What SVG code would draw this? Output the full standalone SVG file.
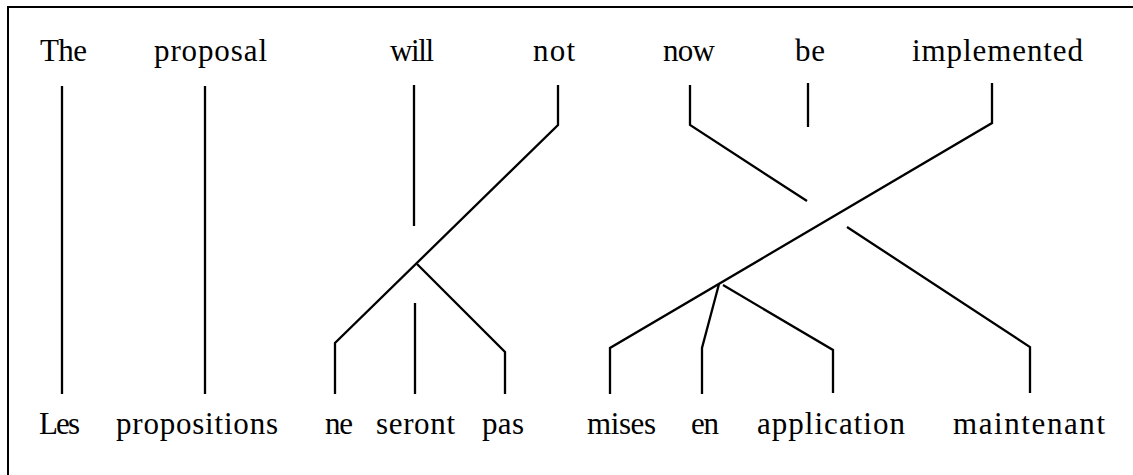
<svg xmlns="http://www.w3.org/2000/svg" width="1133" height="475" viewBox="0 0 1133 475">
<style>
text{font-family:"Liberation Serif","Times New Roman",serif;font-size:31px;fill:#000}
.c{fill:none;stroke:#000;stroke-width:2.3;stroke-linejoin:miter;stroke-linecap:butt}
.f{fill:none;stroke:#000;stroke-width:2}
</style>
<rect width="1133" height="475" fill="#fff"/>
<g id="frame"><path class="f" d="M8,475 V7 H1133"/></g>
<g id="en-words">
<g id="w-The"><text x="40" y="61" textLength="47" lengthAdjust="spacing">The</text></g>
<g id="w-proposal"><text x="154" y="61" textLength="113" lengthAdjust="spacing">proposal</text></g>
<g id="w-will"><text x="390" y="61" textLength="44" lengthAdjust="spacing">will</text></g>
<g id="w-not"><text x="533" y="61" textLength="42" lengthAdjust="spacing">not</text></g>
<g id="w-now"><text x="663" y="61" textLength="52" lengthAdjust="spacing">now</text></g>
<g id="w-be"><text x="795" y="61" textLength="30" lengthAdjust="spacing">be</text></g>
<g id="w-implemented"><text x="912" y="61" textLength="171" lengthAdjust="spacing">implemented</text></g>
</g>
<g id="fr-words">
<g id="w-Les"><text x="39" y="434" textLength="41" lengthAdjust="spacing">Les</text></g>
<g id="w-propositions"><text x="116" y="434" textLength="162" lengthAdjust="spacing">propositions</text></g>
<g id="w-ne"><text x="325" y="434" textLength="28" lengthAdjust="spacing">ne</text></g>
<g id="w-seront"><text x="376" y="434" textLength="79" lengthAdjust="spacing">seront</text></g>
<g id="w-pas"><text x="482" y="434" textLength="42" lengthAdjust="spacing">pas</text></g>
<g id="w-mises"><text x="587" y="434" textLength="69" lengthAdjust="spacing">mises</text></g>
<g id="w-en"><text x="691" y="434" textLength="28" lengthAdjust="spacing">en</text></g>
<g id="w-application"><text x="757" y="434" textLength="148" lengthAdjust="spacing">application</text></g>
<g id="w-maintenant"><text x="953" y="434" textLength="152" lengthAdjust="spacing">maintenant</text></g>
</g>
<g id="connectors">
<path class="c" d="M62,86 V394"/>
<path class="c" d="M205,86 V394"/>
<path class="c" d="M414,85 V226"/>
<path class="c" d="M415,303 V394"/>
<path class="c" d="M558,85 V125 L335,343 V394"/>
<path class="c" d="M417,264 L505,352 V394"/>
<path class="c" d="M690,85 V125 L807,201"/>
<path class="c" d="M847,227 L1030,347 V393"/>
<path class="c" d="M808,83 V127"/>
<path class="c" d="M992,83 V123 L610,348 V394"/>
<path class="c" d="M719,284 L702,348 V394"/>
<path class="c" d="M723,285 L833,350 V393"/>
</g>
</svg>
